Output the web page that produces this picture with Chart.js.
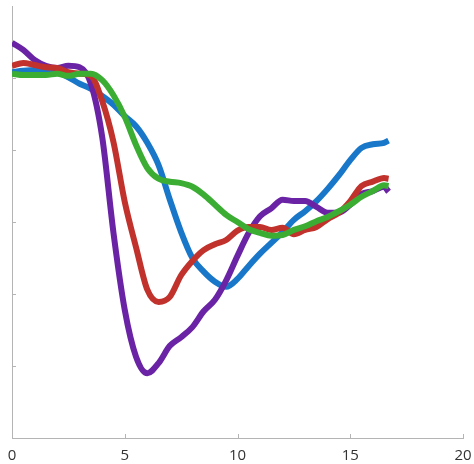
<!DOCTYPE html>
<html>
<head>
<meta charset="utf-8">
<script src="https://cdn.jsdelivr.net/npm/chart.js@4/dist/chart.umd.min.js"></script>
<style>
    html, body { margin: 0; padding: 0; background: #fff; }
    #wrap { width: 474px; height: 464px; }
</style>
</head>
<body>
<div id="wrap"><canvas id="chart-area" width="474" height="464"></canvas></div>
<script>
// time steps (x values)
var xs = [0, 0.5, 1, 1.5, 2, 2.5, 3, 3.5, 4, 4.5, 5, 5.5, 6, 6.5, 7, 7.5, 8, 8.5,
          9, 9.5, 10, 10.5, 11, 11.5, 12, 12.5, 13, 13.5, 14, 14.5, 15, 15.5, 16, 16.5, 16.7];

var redValues = [5.17, 5.21, 5.18, 5.15, 5.14, 5.08, 5.06, 5.03, 4.68, 4.11, 3.28, 2.65,
                 2.06, 1.89, 1.96, 2.26, 2.46, 2.61, 2.69, 2.75, 2.88, 2.93, 2.93, 2.89,
                 2.92, 2.83, 2.89, 2.93, 3.04, 3.13, 3.29, 3.50, 3.56, 3.61, 3.60];

var greenValues = [5.06, 5.04, 5.04, 5.04, 5.06, 5.03, 5.06, 5.06, 4.97, 4.76, 4.46, 4.07,
                   3.75, 3.60, 3.56, 3.54, 3.49, 3.38, 3.24, 3.10, 3.00, 2.90, 2.85, 2.81,
                   2.82, 2.89, 2.94, 3.01, 3.07, 3.15, 3.24, 3.35, 3.43, 3.51, 3.50];

var purpleValues = [5.49, 5.39, 5.25, 5.17, 5.14, 5.17, 5.15, 4.92, 4.18, 2.85, 1.78, 1.13,
                    0.90, 1.04, 1.28, 1.40, 1.54, 1.76, 1.92, 2.19, 2.53, 2.85, 3.08, 3.19,
                    3.31, 3.29, 3.29, 3.21, 3.13, 3.13, 3.24, 3.39, 3.43, 3.49, 3.42];

var blueValues = [5.08, 5.10, 5.11, 5.11, 5.08, 5.01, 4.92, 4.85, 4.75, 4.63, 4.47, 4.33,
                  4.10, 3.79, 3.31, 2.86, 2.50, 2.31, 2.17, 2.10, 2.21, 2.39, 2.56, 2.71,
                  2.86, 3.03, 3.15, 3.29, 3.46, 3.65, 3.86, 4.03, 4.08, 4.10, 4.13];

var xTicks = [0, 5, 10, 15, 20];
var yTicks = [1, 2, 3, 4, 5];

(function () {
    'use strict';

    var axisColor = '#b4b4b4';

    function toPoints(values) {
        return values.map(function (v, i) {
            return { x: xs[i], y: v };
        });
    }

    function makeLine(values, color) {
        return {
            data: toPoints(values),
            borderColor: color,
            borderWidth: 6,
            pointRadius: 0,
            fill: false,
            tension: 0.4,
            cubicInterpolationMode: 'monotone'
        };
    }

    // short tick marks that point into the plot
    var innerTicks = {
        id: 'innerTicks',
        afterDraw: function (chart) {
            var ctx = chart.ctx;
            var xScale = chart.scales.x;
            var yScale = chart.scales.y;
            var area = chart.chartArea;
            ctx.save();
            ctx.strokeStyle = axisColor;
            ctx.lineWidth = 1;
            ctx.beginPath();
            xTicks.forEach(function (t) {
                if (t === 0) { return; }
                var px = Math.round(xScale.getPixelForValue(t)) + 0.5;
                ctx.moveTo(px, area.bottom);
                ctx.lineTo(px, area.bottom - 4);
            });
            yTicks.forEach(function (t) {
                var py = Math.round(yScale.getPixelForValue(t)) + 0.5;
                ctx.moveTo(area.left, py);
                ctx.lineTo(area.left + 4, py);
            });
            ctx.stroke();
            ctx.restore();
        }
    };

    var ctx = document.getElementById('chart-area').getContext('2d');
    window.myLines = new Chart(ctx, {
        type: 'line',
        data: {
            datasets: [
                makeLine(greenValues, '#3bad33'),
                makeLine(redValues, '#c0322b'),
                makeLine(purpleValues, '#6a23a4'),
                makeLine(blueValues, '#1877c9')
            ]
        },
        options: {
            responsive: false,
            animation: false,
            layout: {
                padding: { left: 12, right: 11, top: 6, bottom: -10 }
            },
            plugins: {
                legend: { display: false },
                tooltip: { enabled: false }
            },
            scales: {
                x: {
                    type: 'linear',
                    min: 0,
                    max: 20,
                    border: { color: axisColor, width: 1 },
                    grid: { display: false, drawTicks: false },
                    ticks: {
                        stepSize: 5,
                        padding: 0,
                        color: '#333',
                        font: { family: 'Open Sans', size: 15, lineHeight: 2.4 }
                    }
                },
                y: {
                    min: 0,
                    max: 6,
                    border: { color: axisColor, width: 1 },
                    grid: { display: false, drawTicks: false },
                    ticks: { display: false, stepSize: 1 }
                }
            }
        },
        plugins: [innerTicks]
    });
})();
</script>
</body>
</html>
